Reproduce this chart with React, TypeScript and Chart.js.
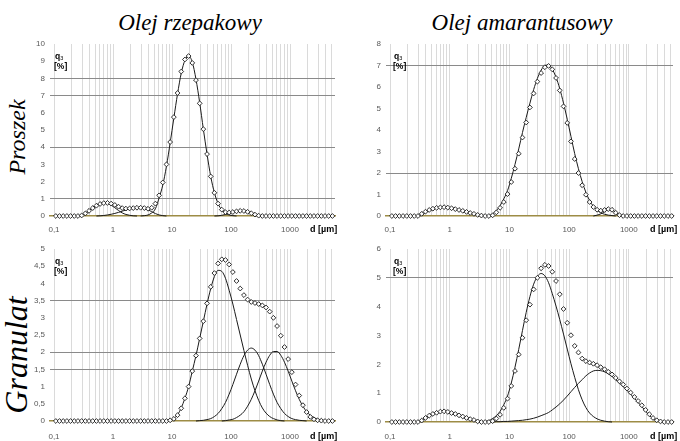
import React, { useEffect, useRef } from "react";
import { Chart, registerables } from "chart.js";

Chart.register(...registerables);

// Particle size classes [µm]
const SIZES = [
  0.10746, 0.12409, 0.1433, 0.16548, 0.1911, 0.22067, 0.25483, 0.29427, 0.33982, 0.39242, 0.45316, 0.5233, 0.6043, 0.69783, 0.80584, 0.93057,
  1.0746, 1.2409, 1.433, 1.6548, 1.911, 2.2067, 2.5483, 2.9427, 3.3982, 3.9242, 4.5316, 5.233, 6.043, 6.9783, 8.0584, 9.3057,
  10.746, 12.409, 14.33, 16.548, 19.11, 22.067, 25.483, 29.427, 33.982, 39.242, 45.316, 52.33, 60.43, 69.783, 80.584, 93.057,
  107.46, 124.09, 143.3, 165.48, 191.1, 220.67, 254.83, 294.27, 339.82, 392.42, 453.16, 523.3, 604.3, 697.83, 805.84, 930.57,
  1074.6, 1240.9, 1433, 1654.8, 1911, 2206.7, 2548.3, 2942.7, 3398.2, 3924.2, 4531.6, 5233,
];

const X_TICKS = [
  0.1, 0.2, 0.3, 0.4, 0.5, 0.6, 0.7, 0.8, 0.9,
  1, 2, 3, 4, 5, 6, 7, 8, 9,
  10, 20, 30, 40, 50, 60, 70, 80, 90,
  100, 200, 300, 400, 500, 600, 700, 800, 900,
  1000, 2000, 3000, 4000, 5000,
];
const X_LABEL_VALUES = [0.1, 1, 10, 100, 1000];
const X_LABEL_TEXT = ["0,1", "1", "10", "100", "1000"];

// ---- Olej rzepakowy / Proszek ----
const P1_POINTS = [
  0, 0, 0, 0, 0, 0, 0,
  0.03, 0.15, 0.3, 0.46, 0.6, 0.7, 0.75, 0.76, 0.72,
  0.64, 0.54, 0.46, 0.43, 0.44, 0.46, 0.48, 0.48, 0.46, 0.42,
  0.48, 0.72, 1.2, 1.95, 3.0, 4.3, 5.75, 7.15, 8.4, 9.1,
  9.3, 8.9, 7.9, 6.55, 5.05, 3.6, 2.3, 1.35, 0.72, 0.37,
  0.22, 0.2, 0.23, 0.27, 0.3, 0.29, 0.24, 0.16, 0.08, 0.02,
  0, 0, 0, 0, 0, 0, 0, 0, 0, 0,
  0, 0, 0, 0, 0, 0, 0, 0, 0, 0,
];
const P1_FINE_START = 6;
const P1_FINE = [0, 0.04, 0.14, 0.3, 0.48, 0.63, 0.74, 0.78, 0.74, 0.63, 0.48, 0.32, 0.18, 0.09, 0.04, 0.01, 0];
const P1_MID_START = 11;
const P1_MID = [0, 0.01, 0.03, 0.06, 0.1, 0.15, 0.21, 0.28, 0.35, 0.41, 0.45, 0.48, 0.48, 0.44, 0.36, 0.25, 0.14, 0.06, 0.02, 0];
const P1_MAIN_START = 23;
const P1_MAIN = [0, 0.02, 0.06, 0.18, 0.42, 1.05, 1.8, 2.9, 4.25, 5.7, 7.1, 8.3, 9.05, 9.3, 8.95, 7.95, 6.6, 5.05, 3.6, 2.3, 1.35, 0.72, 0.35, 0.15, 0.06, 0.02, 0];
const P1_COARSE_START = 43;
const P1_COARSE = [0, 0.01, 0.04, 0.09, 0.15, 0.22, 0.28, 0.3, 0.28, 0.22, 0.15, 0.08, 0.03, 0];

// ---- Olej amarantusowy / Proszek ----
const P2_POINTS = [
  0, 0, 0, 0, 0, 0, 0, 0,
  0.1, 0.2, 0.28, 0.34, 0.38, 0.4, 0.41, 0.39,
  0.36, 0.32, 0.28, 0.24, 0.19, 0.14, 0.1, 0.05, 0.02, 0,
  0, 0.03, 0.17, 0.38, 0.65, 1.02, 1.58, 2.2, 2.9, 3.65,
  4.35, 5.05, 5.7, 6.25, 6.65, 6.92, 6.98, 6.82, 6.42, 5.84,
  5.1, 4.33, 3.47, 2.65, 2.0, 1.43, 0.99, 0.65, 0.42, 0.29,
  0.25, 0.28, 0.32, 0.29, 0.15, 0.04, 0, 0, 0, 0,
  0, 0, 0, 0, 0, 0, 0, 0, 0, 0,
];
const P2_FINE_START = 7;
const P2_FINE = [0, 0.07, 0.16, 0.25, 0.32, 0.38, 0.41, 0.42, 0.41, 0.38, 0.34, 0.3, 0.25, 0.2, 0.15, 0.1, 0.06, 0.03, 0.01, 0];
const P2_MAIN_START = 25;
const P2_MAIN = [
  0, 0.02, 0.1, 0.25, 0.48, 0.8, 1.18, 1.75, 2.4, 3.12,
  3.88, 4.58, 5.25, 5.88, 6.4, 6.78, 7.0, 7.02, 6.82, 6.45,
  5.92, 5.25, 4.5, 3.7, 2.9, 2.2, 1.6, 1.1, 0.72, 0.45,
  0.27, 0.15, 0.08, 0.04, 0.02, 0,
];
const P2_COARSE_START = 54;
const P2_COARSE = [0, 0.04, 0.1, 0.2, 0.3, 0.28, 0.16, 0.05, 0];

// ---- Olej rzepakowy / Granulat ----
const P3_POINTS = [
  0, 0, 0, 0, 0, 0, 0, 0, 0, 0,
  0, 0, 0, 0, 0, 0, 0, 0, 0, 0,
  0, 0, 0, 0, 0, 0, 0, 0, 0, 0,
  0,
  0.02, 0.06, 0.17, 0.37, 0.66, 1.0, 1.45, 1.9, 2.4,
  2.9, 3.42, 3.9, 4.3, 4.58, 4.7, 4.68, 4.55, 4.33, 4.07,
  3.85, 3.66, 3.53, 3.46, 3.43, 3.4, 3.36, 3.3, 3.18, 3.0,
  2.76, 2.48, 2.15, 1.8, 1.42, 1.06, 0.74, 0.46, 0.26, 0.12,
  0.05, 0.02, 0.01, 0, 0, 0,
];
const P3_A_START = 30;
const P3_A = [
  0, 0.02, 0.07, 0.18, 0.38, 0.66, 1.0, 1.45, 1.9, 2.4,
  2.9, 3.4, 3.85, 4.2, 4.38, 4.35, 4.15, 3.8, 3.4, 2.95,
  2.5, 2.05, 1.62, 1.22, 0.88, 0.6, 0.38, 0.23, 0.13, 0.07,
  0.03, 0.01, 0,
];
const P3_B_START = 38;
const P3_B = [
  0, 0.01, 0.02, 0.04, 0.07, 0.13, 0.22, 0.36, 0.54, 0.78,
  1.06, 1.36, 1.65, 1.9, 2.06, 2.12, 2.06, 1.9, 1.65, 1.36,
  1.06, 0.78, 0.54, 0.36, 0.22, 0.13, 0.07, 0.04, 0.02, 0.01, 0,
];
const P3_C_START = 45;
const P3_C = [
  0, 0.01, 0.03, 0.05, 0.1, 0.17, 0.27, 0.43, 0.63, 0.88,
  1.16, 1.45, 1.71, 1.91, 2.02, 2.02, 1.91, 1.71, 1.45, 1.16,
  0.88, 0.63, 0.43, 0.27, 0.17, 0.1, 0.05, 0.03, 0.01, 0,
];

// ---- Olej amarantusowy / Granulat ----
const P4_POINTS = [
  0, 0, 0, 0, 0, 0, 0, 0,
  0.05, 0.14, 0.22, 0.28, 0.32, 0.36, 0.37, 0.35, 0.31, 0.28,
  0.23, 0.19, 0.14, 0.1, 0.07, 0.02, 0, 0, 0, 0.03,
  0.12, 0.25, 0.49, 0.81, 1.25, 1.77, 2.34, 2.92, 3.53, 4.07,
  4.6, 5.0, 5.33, 5.45, 5.41, 5.21, 4.89, 4.43, 3.92, 3.44,
  3.01, 2.64, 2.41, 2.2, 2.11, 2.06, 2.02, 1.97, 1.9, 1.83,
  1.74, 1.65, 1.53, 1.41, 1.3, 1.16, 1.02, 0.87, 0.73, 0.58,
  0.42, 0.27, 0.14, 0.06, 0.02, 0, 0, 0,
];
const P4_A_START = 7;
const P4_A = [0, 0.06, 0.14, 0.22, 0.29, 0.34, 0.37, 0.37, 0.35, 0.31, 0.27, 0.22, 0.17, 0.13, 0.09, 0.06, 0.03, 0.01, 0];
const P4_B_START = 24;
const P4_B = [
  0, 0.02, 0.05, 0.12, 0.22, 0.37, 0.6, 0.9, 1.35, 1.9,
  2.52, 3.17, 3.8, 4.35, 4.78, 5.05, 5.15, 5.07, 4.83, 4.45,
  4.02, 3.55, 3.05, 2.53, 2.02, 1.55, 1.12, 0.77, 0.5, 0.31,
  0.19, 0.11, 0.06, 0.03, 0.01, 0,
];
const P4_C_START = 27;
const P4_C = [
  0, 0.01, 0.01, 0.02, 0.02, 0.03, 0.04, 0.05, 0.06, 0.08,
  0.1, 0.13, 0.17, 0.22, 0.27, 0.33, 0.42, 0.52, 0.63, 0.76,
  0.9, 1.05, 1.2, 1.34, 1.47, 1.6, 1.7, 1.77, 1.79, 1.78,
  1.74, 1.67, 1.58, 1.47, 1.35, 1.23, 1.1, 0.96, 0.82, 0.68,
  0.53, 0.38, 0.23, 0.11, 0.04, 0.01, 0,
];

// Y tick ranges and highlighted horizontal gridlines
const P1_Y = { max: 10, step: 1, lines: [1, 4, 7, 8] };
const P2_Y = { max: 8, step: 1, lines: [2, 7] };
const P3_Y = { max: 5, step: 0.5, lines: [1.5, 2, 3.5] };
const P4_Y = { max: 6, step: 1, lines: [5] };

const OLIVE = "#9d8c45";
const SANS = '"Liberation Sans", Arial, sans-serif';
const SERIF = '"Liberation Serif", "Times New Roman", serif';

type LineSeries = { start: number; y: number[] };
type PanelCfg = {
  L: number; T: number; R: number; B: number;
  xMin: number; xMax: number; xPad: number;
  yMax: number; yStep: number; hLines: number[];
  points: number[];
  lines: LineSeries[];
  qOffset: number;
  dLeft: number;
};

const PANELS: PanelCfg[] = [
  {
    L: 50, T: 44, R: 335, B: 216, xMin: 0.08554, xMax: 5790, xPad: 9,
    yMax: P1_Y.max, yStep: P1_Y.step, hLines: P1_Y.lines, points: P1_POINTS,
    lines: [
      { start: P1_FINE_START, y: P1_FINE },
      { start: P1_MID_START, y: P1_MID },
      { start: P1_MAIN_START, y: P1_MAIN },
      { start: P1_COARSE_START, y: P1_COARSE },
    ],
    qOffset: 4, dLeft: 310,
  },
  {
    L: 386, T: 44, R: 673, B: 216, xMin: 0.0857, xMax: 5500, xPad: 9,
    yMax: P2_Y.max, yStep: P2_Y.step, hLines: P2_Y.lines, points: P2_POINTS,
    lines: [
      { start: P2_FINE_START, y: P2_FINE },
      { start: P2_MAIN_START, y: P2_MAIN },
      { start: P2_COARSE_START, y: P2_COARSE },
    ],
    qOffset: 7, dLeft: 650,
  },
  {
    L: 50, T: 249, R: 335, B: 421, xMin: 0.08554, xMax: 5790, xPad: 11,
    yMax: P3_Y.max, yStep: P3_Y.step, hLines: P3_Y.lines, points: P3_POINTS,
    lines: [
      { start: P3_A_START, y: P3_A },
      { start: P3_B_START, y: P3_B },
      { start: P3_C_START, y: P3_C },
    ],
    qOffset: 4, dLeft: 310,
  },
  {
    L: 386, T: 249, R: 673, B: 422, xMin: 0.0857, xMax: 5500, xPad: 10,
    yMax: P4_Y.max, yStep: P4_Y.step, hLines: P4_Y.lines, points: P4_POINTS,
    lines: [
      { start: P4_A_START, y: P4_A },
      { start: P4_B_START, y: P4_B },
      { start: P4_C_START, y: P4_C },
    ],
    qOffset: 7, dLeft: 650,
  },
];

function xLabel(v: number): string {
  for (let k = 0; k < X_LABEL_VALUES.length; k++) {
    if (Math.abs(X_LABEL_VALUES[k] - v) < 1e-9) return X_LABEL_TEXT[k];
  }
  return "";
}

function Panel({ cfg }: { cfg: PanelCfg }) {
  const ref = useRef<HTMLCanvasElement | null>(null);
  const cLeft = cfg.L - 40;
  const cTop = cfg.T - 8;
  const cW = cfg.R - cfg.L + 46;
  const cH = cfg.B - cfg.T + 8 + 26;

  useEffect(() => {
    const canvas = ref.current;
    if (!canvas) return;
    const datasets: any[] = [
      {
        data: cfg.points.map((y, i) => ({ x: SIZES[i], y })),
        showLine: false,
        pointStyle: "rectRot",
        pointRadius: 2.4,
        pointBorderWidth: 0.9,
        pointBorderColor: "#1a1a1a",
        pointBackgroundColor: "#ffffff",
        clip: false,
      },
      ...cfg.lines.map((l) => ({
        data: l.y.map((y, k) => ({ x: SIZES[l.start + k], y })),
        borderColor: "#1a1a1a",
        borderWidth: 1,
        pointRadius: 0,
        cubicInterpolationMode: "monotone",
        fill: false,
        clip: false,
      })),
    ];
    const chart = new Chart(canvas, {
      type: "line",
      data: { datasets },
      options: {
        responsive: false,
        animation: false,
        devicePixelRatio: 1,
        events: [],
        layout: { padding: { left: 10, top: 8, right: 6, bottom: 2 } },
        plugins: { legend: { display: false }, tooltip: { enabled: false } },
        scales: {
          x: {
            type: "logarithmic",
            min: cfg.xMin,
            max: cfg.xMax,
            afterBuildTicks: (s: any) => {
              s.ticks = X_TICKS.filter((v) => v >= s.min && v <= s.max).map((v) => ({ value: v }));
            },
            afterFit: (s: any) => {
              s.height = 24;
              s.paddingLeft = 0;
              s.paddingRight = 0;
            },
            ticks: {
              autoSkip: false,
              maxRotation: 0,
              minRotation: 0,
              padding: cfg.xPad,
              font: { size: 8, family: SANS },
              color: "#595959",
              callback: (v: any) => xLabel(Number(v)),
            },
            grid: { color: "#dadada", lineWidth: 1, drawTicks: false },
            border: { display: true, color: OLIVE, width: 1.5 },
          },
          y: {
            type: "linear",
            min: 0,
            max: cfg.yMax,
            afterFit: (s: any) => {
              s.width = 30;
              s.paddingTop = 0;
              s.paddingBottom = 0;
            },
            ticks: {
              stepSize: cfg.yStep,
              padding: 5,
              font: { size: 8, family: SANS },
              color: "#595959",
              callback: (v: any) => String(v).replace(".", ","),
            },
            grid: {
              drawTicks: false,
              lineWidth: 1,
              color: (ctx: any) =>
                ctx.tick && cfg.hLines.some((h) => Math.abs(h - ctx.tick.value) < 1e-9)
                  ? "#8a8a8a"
                  : "rgba(0,0,0,0)",
            },
            border: { display: false },
          },
        },
      } as any,
    });
    return () => chart.destroy();
  }, []);

  const qTop = cfg.T + 6.8;
  const pTop = cfg.T + 17.3;
  const dTop = cfg.B + cfg.xPad + 4.8 - 5.4;
  return (
    <>
      <canvas
        ref={ref}
        width={cW}
        height={cH}
        style={{ position: "absolute", left: cLeft, top: cTop, width: cW, height: cH }}
      />
      <div
        style={{
          position: "absolute", left: cfg.L + cfg.qOffset + 1, top: qTop,
          font: `bold 8.5px ${SANS}`, lineHeight: "10px", color: "#000", whiteSpace: "nowrap",
        }}
      >
        q<span style={{ fontSize: "5.5px", fontWeight: "normal", position: "relative", top: 1.5 }}>3</span>
      </div>
      <div
        style={{
          position: "absolute", left: cfg.L + cfg.qOffset, top: pTop,
          font: `bold 8.5px ${SANS}`, lineHeight: "10px", color: "#000", whiteSpace: "nowrap",
        }}
      >
        [%]
      </div>
      <div
        style={{
          position: "absolute", left: cfg.dLeft, top: dTop,
          font: `bold 9px ${SANS}`, lineHeight: "10px", color: "#000", whiteSpace: "nowrap",
        }}
      >
        d [µm]
      </div>
    </>
  );
}

export default function App() {
  return (
    <div
      style={{
        position: "fixed", left: 0, top: 0, width: 680, height: 441,
        background: "#ffffff", overflow: "hidden",
      }}
    >
      <div
        style={{
          position: "absolute", left: 190, top: 10.8, transform: "translateX(-50%)",
          font: `italic 23px ${SERIF}`, lineHeight: "23px", whiteSpace: "nowrap", color: "#000",
        }}
      >
        Olej rzepakowy
      </div>
      <div
        style={{
          position: "absolute", left: 522, top: 10.8, transform: "translateX(-50%)",
          font: `italic 23px ${SERIF}`, lineHeight: "23px", whiteSpace: "nowrap", color: "#000",
        }}
      >
        Olej amarantusowy
      </div>
      <div
        style={{
          position: "absolute", left: 17, top: 137, transform: "translate(-50%, -50%) rotate(-90deg)",
          font: `italic 24px ${SERIF}`, lineHeight: "24px", whiteSpace: "nowrap", color: "#000",
        }}
      >
        Proszek
      </div>
      <div
        style={{
          position: "absolute", left: 16, top: 355, transform: "translate(-50%, -50%) rotate(-90deg)",
          font: `italic 32px ${SERIF}`, lineHeight: "32px", whiteSpace: "nowrap", color: "#000",
        }}
      >
        Granulat
      </div>
      {PANELS.map((p, i) => (
        <Panel key={i} cfg={p} />
      ))}
    </div>
  );
}
